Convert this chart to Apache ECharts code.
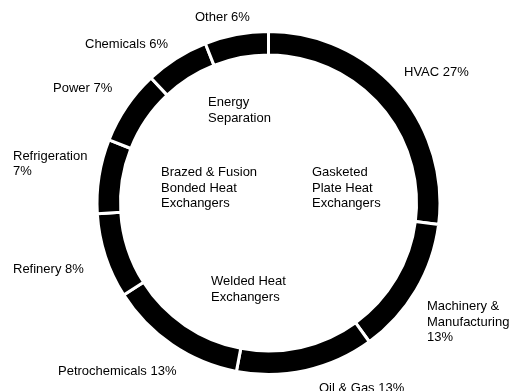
<!DOCTYPE html>
<html>
<head>
<meta charset="utf-8">
<script src="https://cdn.jsdelivr.net/npm/echarts@6/dist/echarts.min.js"></script>
<style>
  html, body { margin: 0; padding: 0; background: #fff; }
  #chart { width: 514px; height: 391px; }
</style>
</head>
<body>
<div id="chart"></div>
<script>
// Market share by end-use industry (percent), clockwise from the top
const industries = ['HVAC', 'Machinery &\nManufacturing', 'Oil & Gas', 'Petrochemicals',
  'Refinery', 'Refrigeration', 'Power', 'Chemicals', 'Other'];
const shares = [27, 13, 13, 13, 8, 7, 7, 6, 6];

// Product families written inside the ring
const productTypes = ['Energy\nSeparation', 'Brazed & Fusion\nBonded Heat\nExchangers',
  'Gasketed\nPlate Heat\nExchangers', 'Welded Heat\nExchangers'];

const FONT = '"Liberation Sans", Arial, Helvetica, sans-serif';

// Where each industry label sits (left edge, vertical middle)
const labelSpots = [
  [404, 72], [427, 322], [319, 388], [58, 371], [13, 269],
  [13, 164], [53, 88], [85, 44], [195, 17]
];
// Where each product-family caption starts (left edge, top)
const captionSpots = [[208, 95], [161, 165], [312, 165], [211, 274]];

const chart = echarts.init(document.getElementById('chart'), null, { renderer: 'canvas' });

chart.setOption({
  backgroundColor: '#ffffff',
  animation: false,
  series: [{
    type: 'pie',
    center: [268.5, 203],
    radius: [148, 171.5],
    startAngle: 90,
    clockwise: true,
    silent: true,
    itemStyle: { color: '#000000', borderColor: '#ffffff', borderWidth: 3 },
    label: {
      show: true,
      position: 'outside',
      color: '#000000',
      fontFamily: FONT,
      fontSize: 13,
      lineHeight: 15.5,
      overflow: 'none',
      formatter: p => {
        const name = p.name;
        if (name === 'Refrigeration' || name.indexOf('\n') >= 0) return name + '\n' + p.value + '%';
        return name + ' ' + p.value + '%';
      }
    },
    labelLine: { show: false },
    labelLayout: params => {
      const s = labelSpots[params.dataIndex];
      return { x: s[0], y: s[1], align: 'left', verticalAlign: 'middle', hideOverlap: false };
    },
    data: industries.map((n, i) => ({ name: n, value: shares[i] }))
  }],
  graphic: productTypes.map((t, i) => ({
    type: 'text',
    left: captionSpots[i][0],
    top: captionSpots[i][1],
    silent: true,
    style: {
      text: t,
      fill: '#000000',
      font: '13px ' + FONT,
      lineHeight: 15.5
    }
  }))
});
</script>
</body>
</html>
